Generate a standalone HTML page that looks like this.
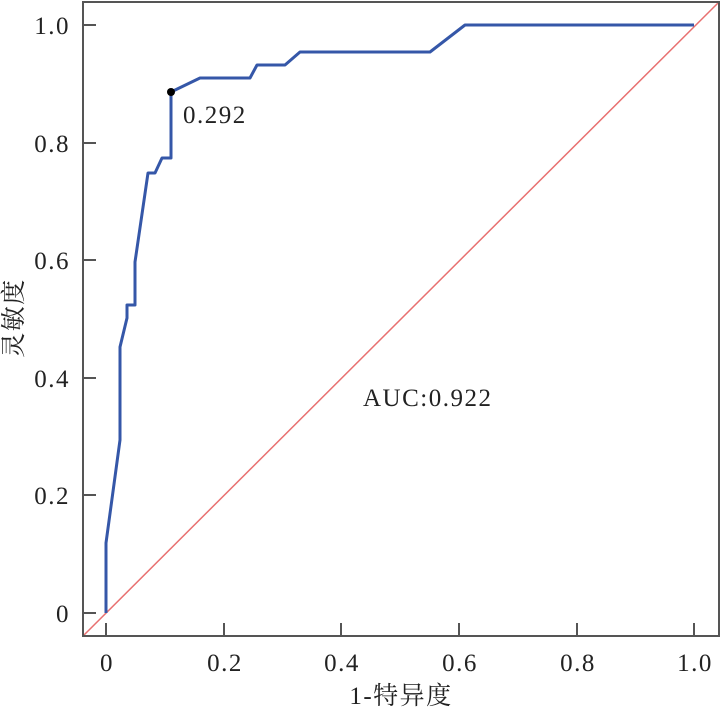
<!DOCTYPE html>
<html><head><meta charset="utf-8"><style>body{margin:0;background:#fff}</style></head><body>
<svg width="721" height="712" xmlns="http://www.w3.org/2000/svg" style="display:block">
<g font-family="Liberation Serif, Noto Serif CJK SC, serif" font-size="25" letter-spacing="1.5" fill="#222">
<line x1="83" y1="636" x2="719" y2="2" stroke="#e87070" stroke-width="1.5"/>
<polyline fill="none" stroke="#3557a8" stroke-width="3" stroke-linejoin="round" points="106,613 106,543 120,440 120,347 127,318 127,305 135,305 135,262 148,173 155,173 162,158 171,158 171,92 200,78 250,78 257,65 285,65 300,52 430,52 465,25 694,25"/>
<circle cx="171" cy="92" r="4" fill="#000"/>
<rect x="83" y="2" width="636" height="634" fill="none" stroke="#555" stroke-width="2"/>
<g stroke="#555" stroke-width="2">
<line x1="83" y1="613" x2="96" y2="613"/><line x1="83" y1="495" x2="96" y2="495"/><line x1="83" y1="378" x2="96" y2="378"/><line x1="83" y1="260" x2="96" y2="260"/><line x1="83" y1="143" x2="96" y2="143"/><line x1="83" y1="25" x2="96" y2="25"/>
<line x1="106" y1="636" x2="106" y2="623"/><line x1="224" y1="636" x2="224" y2="623"/><line x1="341" y1="636" x2="341" y2="623"/><line x1="459" y1="636" x2="459" y2="623"/><line x1="577" y1="636" x2="577" y2="623"/><line x1="694" y1="636" x2="694" y2="623"/>
</g>
<g text-anchor="end"><text x="70" y="622">0</text><text x="70" y="504">0.2</text><text x="70" y="387">0.4</text><text x="70" y="269">0.6</text><text x="70" y="152">0.8</text><text x="70" y="34">1.0</text></g>
<g text-anchor="middle"><text x="107" y="671">0</text><text x="225" y="671">0.2</text><text x="342" y="671">0.4</text><text x="460" y="671">0.6</text><text x="578" y="671">0.8</text><text x="695" y="671">1.0</text>
<text x="401" y="704">1-特异度</text></g>
<text x="22" y="318" text-anchor="middle" transform="rotate(-90 22 318)">灵敏度</text>
<text x="183" y="123">0.292</text>
<text x="363" y="406">AUC:0.922</text>
</g></svg></body></html>
